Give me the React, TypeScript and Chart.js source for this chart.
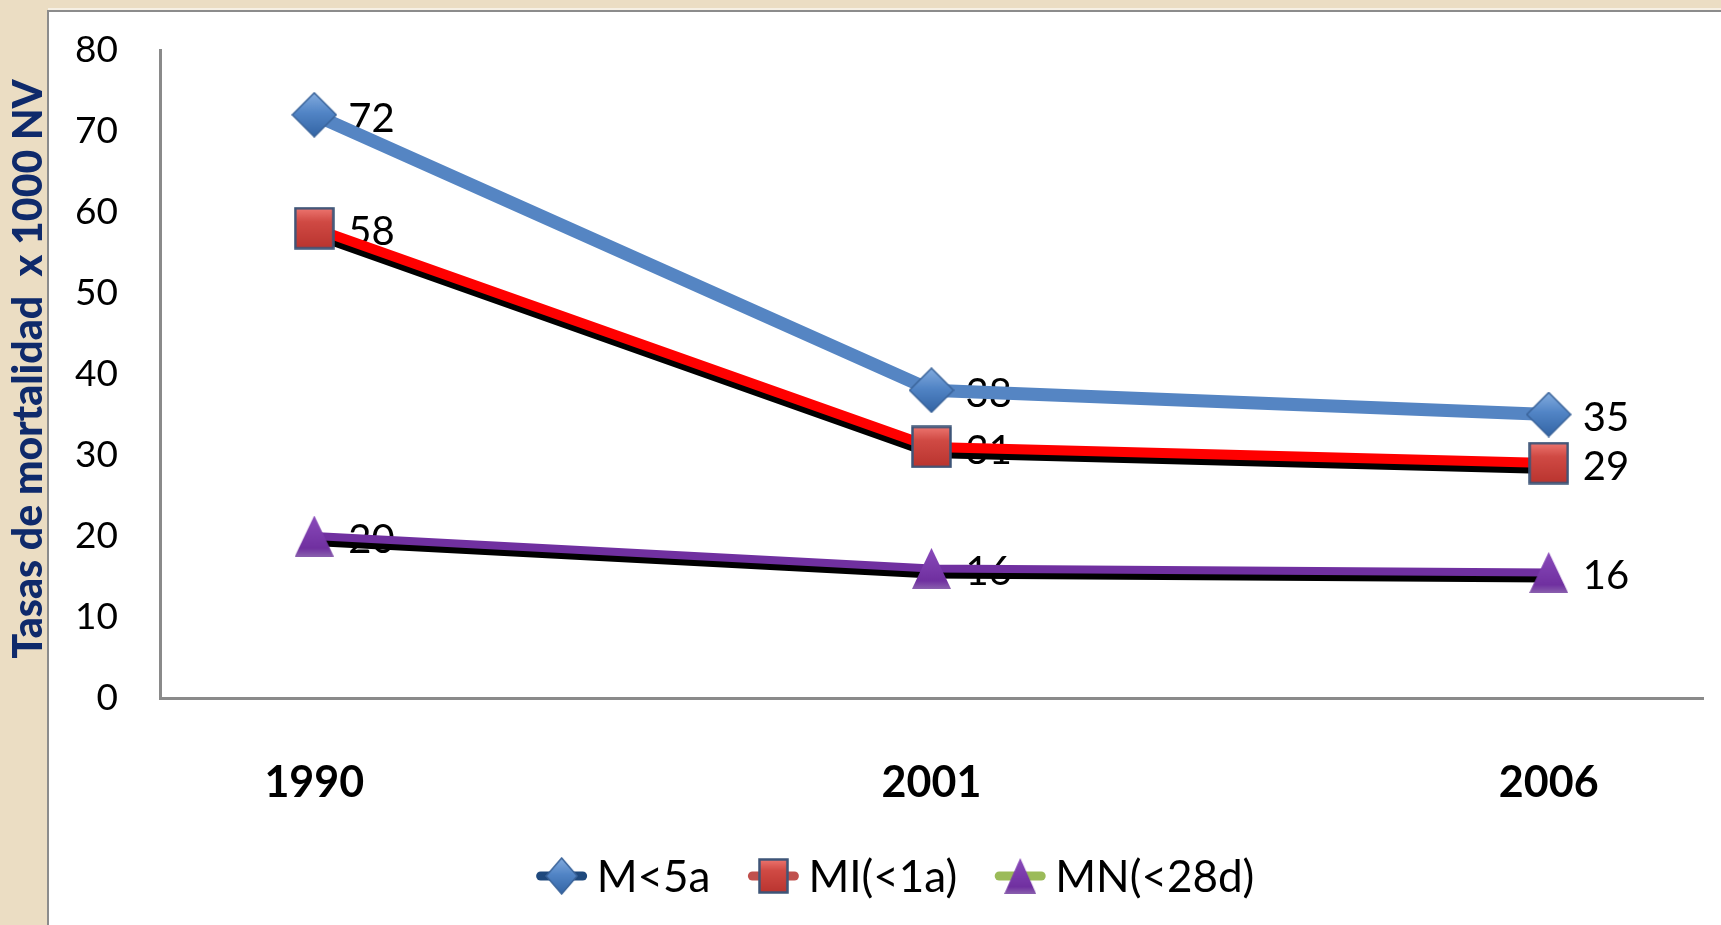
import React, { useEffect, useRef } from 'react';
import { Chart, registerables } from 'chart.js';

Chart.register(...registerables);

const years = ['1990', '2001', '2006'];
const under5 = [72, 38, 35];
const infant = [58, 31, 29];
const neonatal = [20, 16, 15.5];
const seriesNames = ['M<5a', 'MI(<1a)', 'MN(<28d)'];
const yAxisTitle = 'Tasas de mortalidad  x 1000 NV';

const W = 1721;
const H = 925;
const FONT = 'Lato, "Open Sans", sans-serif';

function makeCanvas(w: number, h: number, draw: (ctx: CanvasRenderingContext2D) => void) {
  const c = document.createElement('canvas');
  c.width = w;
  c.height = h;
  const ctx = c.getContext('2d')!;
  draw(ctx);
  return c;
}

function diamond(w: number, h: number) {
  return makeCanvas(w, h, (ctx) => {
    const g = ctx.createLinearGradient(0, 0, 0, h);
    g.addColorStop(0, '#86AEE0');
    g.addColorStop(0.45, '#5285C6');
    g.addColorStop(1, '#3263A3');
    ctx.beginPath();
    ctx.moveTo(w / 2, 1);
    ctx.lineTo(w - 1, h / 2);
    ctx.lineTo(w / 2, h - 1);
    ctx.lineTo(1, h / 2);
    ctx.closePath();
    ctx.fillStyle = g;
    ctx.fill();
    ctx.strokeStyle = '#3A6399';
    ctx.lineWidth = 1.5;
    ctx.stroke();
  });
}

function square(w: number, h: number) {
  return makeCanvas(w, h, (ctx) => {
    const g = ctx.createLinearGradient(0, 0, 0, h);
    g.addColorStop(0, '#F07A74');
    g.addColorStop(0.35, '#D04A44');
    g.addColorStop(1, '#B8332E');
    ctx.fillStyle = g;
    ctx.fillRect(2, 2, w - 4, h - 4);
    ctx.strokeStyle = '#3E5578';
    ctx.lineWidth = 2.5;
    ctx.strokeRect(1.5, 1.5, w - 3, h - 3);
  });
}

function triangle(w: number, h: number) {
  return makeCanvas(w, h, (ctx) => {
    const g = ctx.createLinearGradient(0, 0, 0, h);
    g.addColorStop(0, '#8A4BBB');
    g.addColorStop(0.8, '#7030A0');
    g.addColorStop(1, '#8A60AE');
    ctx.beginPath();
    ctx.moveTo(w / 2, 0);
    ctx.lineTo(w, h);
    ctx.lineTo(0, h);
    ctx.closePath();
    ctx.fillStyle = g;
    ctx.fill();
  });
}

const backgroundPlugin = {
  id: 'bgPanel',
  beforeDraw(chart: any) {
    const ctx = chart.ctx as CanvasRenderingContext2D;
    ctx.save();
    ctx.fillStyle = '#EBDDC3';
    ctx.fillRect(0, 0, W, H);
    ctx.fillStyle = '#F6F0E4';
    ctx.fillRect(48, 8, W - 48, 2);
    ctx.fillStyle = '#FFFFFF';
    ctx.fillRect(48, 10, W - 48, H - 10);
    ctx.fillStyle = '#8C8C8C';
    ctx.fillRect(48, 10, W - 48, 2);
    ctx.fillRect(47, 10, 2, H - 10);
    // y axis title
    ctx.translate(29, 369);
    ctx.rotate(-Math.PI / 2);
    ctx.font = `900 41px ${FONT}`;
    ctx.fillStyle = '#0F2A6B';
    ctx.textAlign = 'center';
    ctx.textBaseline = 'middle';
    ctx.fillText(yAxisTitle, 0, 0);
    ctx.restore();
  },
};

const labelPlugin = {
  id: 'valueLabels',
  beforeDatasetsDraw(chart: any) {
    const ctx = chart.ctx as CanvasRenderingContext2D;
    ctx.save();
    ctx.font = `40px ${FONT}`;
    ctx.fillStyle = '#000000';
    ctx.textAlign = 'left';
    ctx.textBaseline = 'middle';
    chart.data.datasets.forEach((ds: any, i: number) => {
      const meta = chart.getDatasetMeta(i);
      meta.data.forEach((p: any, j: number) => {
        const v = ds.data[j].y;
        ctx.fillText(String(Math.round(v)), p.x + 34, p.y + 4);
      });
    });
    ctx.restore();
  },
};

const shadowPlugin = {
  id: 'lineShadow',
  beforeDatasetDraw(chart: any, args: any) {
    const ds = chart.data.datasets[args.index];
    if (!ds.shadowColor) return;
    const pts = args.meta.data;
    const ctx = chart.ctx as CanvasRenderingContext2D;
    ctx.save();
    ctx.beginPath();
    pts.forEach((p: any, i: number) => {
      if (i === 0) ctx.moveTo(p.x, p.y + ds.shadowOffset);
      else ctx.lineTo(p.x, p.y + ds.shadowOffset);
    });
    ctx.strokeStyle = ds.shadowColor;
    ctx.lineWidth = ds.borderWidth;
    ctx.stroke();
    ctx.restore();
  },
};

const legendLineColors = ['#1F497D', '#C0504D', '#9BBB59'];

const legendPlugin = {
  id: 'customLegend',
  afterDraw(chart: any) {
    const ctx = chart.ctx as CanvasRenderingContext2D;
    const markers = [diamond(33, 38), square(31, 36), triangle(32, 36)];
    const lineLen = 52;
    const gapAfterLine = 9;
    const itemGap = 37;
    const cy = 876;
    ctx.save();
    ctx.font = `44px ${FONT}`;
    const widths = seriesNames.map((n) => ctx.measureText(n).width);
    const total =
      widths.reduce((a, b) => a + b, 0) +
      seriesNames.length * (lineLen + gapAfterLine) +
      itemGap * (seriesNames.length - 1);
    let x = 895 - total / 2;
    seriesNames.forEach((name, i) => {
      ctx.strokeStyle = legendLineColors[i];
      ctx.lineWidth = 9;
      ctx.lineCap = 'round';
      ctx.beginPath();
      ctx.moveTo(x + 5, cy);
      ctx.lineTo(x + lineLen - 5, cy);
      ctx.stroke();
      const m = markers[i];
      ctx.drawImage(m, x + lineLen / 2 - m.width / 2, cy - m.height / 2);
      x += lineLen + gapAfterLine;
      ctx.fillStyle = '#000000';
      ctx.textBaseline = 'middle';
      ctx.textAlign = 'left';
      ctx.fillText(name, x, cy + 2);
      x += widths[i] + itemGap;
    });
    ctx.restore();
  },
};

export default function App() {
  const ref = useRef<HTMLCanvasElement | null>(null);

  useEffect(() => {
    if (!ref.current) return;
    const toXY = (arr: number[]) => arr.map((y, i) => ({ x: i, y }));
    const chart = new Chart(ref.current, {
      type: 'line',
      data: {
        datasets: [
          {
            label: seriesNames[0],
            data: toXY(under5),
            borderColor: '#5585C3',
            borderWidth: 13,
            pointStyle: diamond(46, 46) as any,
            pointRadius: 5,
            tension: 0,
            clip: false,
          } as any,
          {
            label: seriesNames[1],
            data: toXY(infant),
            borderColor: '#FF0000',
            borderWidth: 10,
            shadowColor: '#000000',
            shadowOffset: 6,
            pointStyle: square(41, 43) as any,
            pointRadius: 5,
            tension: 0,
            clip: false,
          } as any,
          {
            label: seriesNames[2],
            data: toXY(neonatal),
            borderColor: '#7030A0',
            borderWidth: 8,
            shadowColor: '#000000',
            shadowOffset: 6,
            pointStyle: triangle(39, 41) as any,
            pointRadius: 5,
            tension: 0,
            clip: false,
          } as any,
        ],
      },
      options: {
        responsive: false,
        animation: false,
        events: [],
        layout: { autoPadding: false, padding: { top: 50, right: 18, left: 0, bottom: 0 } },
        plugins: {
          legend: { display: false },
          tooltip: { enabled: false },
        },
        scales: {
          x: {
            type: 'linear',
            min: -0.25,
            max: 2.25,
            afterBuildTicks: (scale: any) => {
              scale.ticks = years.map((_, i) => ({ value: i }));
            },
            afterFit: (scale: any) => {
              scale.height = 227;
              scale.paddingLeft = 0;
              scale.paddingRight = 0;
            },
            grid: { display: false },
            border: { display: true, color: '#8A8A8A', width: 3 },
            ticks: {
              autoSkip: false,
              maxRotation: 0,
              padding: 51,
              color: '#000000',
              font: { family: FONT, size: 43, weight: 'bold' },
              callback: (v: any) => years[Number(v)] ?? '',
            },
          },
          y: {
            min: 0,
            max: 80,
            afterFit: (scale: any) => {
              scale.width = 160;
              scale.paddingTop = 0;
              scale.paddingBottom = 0;
            },
            grid: { display: false },
            border: { display: true, color: '#8A8A8A', width: 3 },
            ticks: {
              stepSize: 10,
              padding: 34,
              color: '#000000',
              font: { family: FONT, size: 37 },
            },
          },
        },
      },
      plugins: [backgroundPlugin, labelPlugin, shadowPlugin, legendPlugin],
    });
    return () => chart.destroy();
  }, []);

  return (
    <div style={{ position: 'fixed', left: 0, top: 0, width: W, height: H }}>
      <canvas ref={ref} width={W} height={H} style={{ width: W, height: H, display: 'block' }} />
    </div>
  );
}
